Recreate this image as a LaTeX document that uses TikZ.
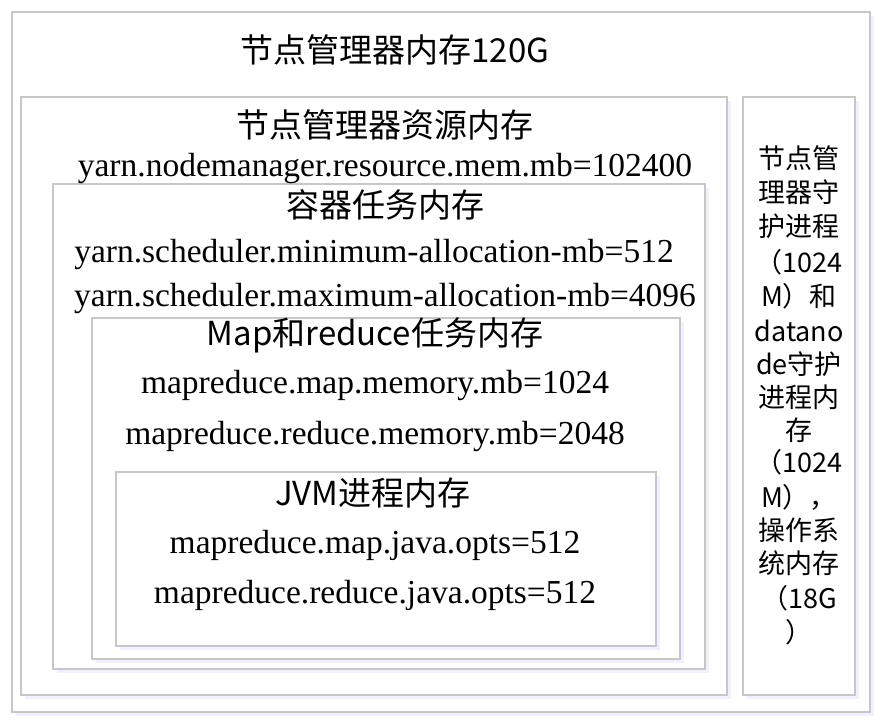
\documentclass[tikz,border=0pt]{standalone}
\usepackage{fontspec}
\setmainfont{Liberation Serif}
\newfontfamily\cjk{Noto Sans CJK SC}
\begin{document}
\begin{tikzpicture}[x=1pt,y=-1pt,
  box/.style={draw=black!22,line width=1.2pt,fill=white},
  cn/.style={font=\cjk\fontsize{33}{36}\selectfont,inner sep=0pt},
  en/.style={font=\fontsize{33.5}{36}\selectfont,inner sep=0pt},
  side/.style={font=\cjk\fontsize{27}{30}\selectfont,inner sep=0pt}]
\useasboundingbox (0,0) rectangle (882,722);
\fill[white] (0,0) rectangle (882,722);
\foreach \a/\b/\c/\d/\n in {12/12/870/712/b1,21/97/727/695/b2,743/97/855/695/b6,53/184/705/669/b3,92/318/680/659/b4,116/472/656/646/b5}{
  \fill[blue!6] (\a+4,\b+4) rectangle (\c+4,\d+4);
  \draw[box] (\a,\b) rectangle (\c,\d);
  \coordinate (\n) at (\a,\b);
}
\node[cn] (t1) at (395,50) {节点管理器内存120G};
\node[cn] (t2) at (385,125) {节点管理器资源内存};
\node[en] (y1) at (385,168) {yarn.nodemanager.resource.mem.mb=102400};
\node[cn] (t3) at (385,205) {容器任务内存};
\node[en] (y2) at (374,254) {yarn.scheduler.minimum-allocation-mb=512};
\node[en] (y3) at (385,298) {yarn.scheduler.maximum-allocation-mb=4096};
\node[cn] (t4) at (375,335) {Map和reduce任务内存};
\node[en] (y4) at (375,385) {mapreduce.map.memory.mb=1024};
\node[en] (y5) at (375,436) {mapreduce.reduce.memory.mb=2048};
\node[cn] (t5) at (373,493) {JVM进程内存};
\node[en] (y6) at (375,545) {mapreduce.map.java.opts=512};
\node[en] (y7) at (375,595) {mapreduce.reduce.java.opts=512};
\foreach \t/\yy [count=\i] in {节点管/158,理器守/192,护进程/226,（1024/262,M）和/296,datano/331,de守护/364,进程内/397,存/430,（1024/462,M），/497,操作系/530,统内存/563,（18G/598,）/632}
  \node[side] (s\i) at (799,\yy) {\t};
\end{tikzpicture}
\end{document}
